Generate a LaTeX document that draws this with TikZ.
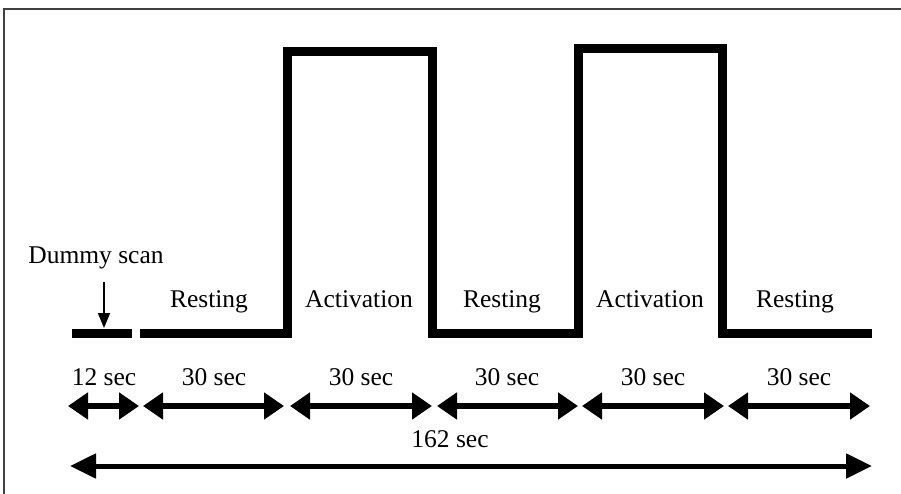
\documentclass[tikz,border=0pt]{standalone}
\usepackage{fontspec}
\setmainfont{Liberation Serif}
\usetikzlibrary{arrows.meta}
\begin{document}
\begin{tikzpicture}[x=1pt,y=-1pt,
  lbl/.style={anchor=base,inner sep=0pt,font=\fontsize{25.5}{30}\selectfont},
  signal/.style={line width=9pt,miter limit=10},
  span/.style={line width=6pt,{Triangle[length=20pt,width=26pt]}-{Triangle[length=20pt,width=26pt]}},
  bigspan/.style={line width=5pt,{Triangle[length=26pt,width=24pt]}-{Triangle[length=26pt,width=24pt]}},
  frame/.style={draw=black!75,line width=1.5pt}]
\useasboundingbox (0,0) rectangle (901,494);
\fill[white] (0,0) rectangle (901,494);
% frame (top and left edges)
\draw[frame] (4,494) -- (4,9) -- (901,9);
% signal
\coordinate (d0) at (72,333);
\coordinate (d1) at (132,333);
\draw[signal] (d0) -- (d1);
\coordinate (s0) at (140,333);
\coordinate (r1b) at (287,333);
\coordinate (r1t) at (287,52);
\coordinate (f1t) at (432,52);
\coordinate (f1b) at (432,333);
\coordinate (r2b) at (578,333);
\coordinate (r2t) at (578,49);
\coordinate (f2t) at (722,49);
\coordinate (f2b) at (722,333);
\coordinate (s1) at (872,333);
\draw[signal] (s0) -- (r1b) -- (r1t) -- (f1t) -- (f1b) -- (r2b) -- (r2t) -- (f2t) -- (f2b) -- (s1);
% dummy scan label and arrow
\node[lbl] (dummy) at (96,263) {Dummy scan};
\coordinate (da0) at (104,282);
\coordinate (da1) at (104,328);
\draw[line width=1.5pt,-{Triangle[length=15pt,width=12pt]}] (da0) -- (da1);
% phase labels
\node[lbl] (p1) at (209,307) {Resting};
\node[lbl] (p2) at (359,307) {Activation};
\node[lbl] (p3) at (502,307) {Resting};
\node[lbl] (p4) at (650,307) {Activation};
\node[lbl] (p5) at (795,307) {Resting};
% duration labels
\node[lbl] (t0) at (104,385) {12 sec};
\node[lbl] (t1) at (214,385) {30 sec};
\node[lbl] (t2) at (361,385) {30 sec};
\node[lbl] (t3) at (507,385) {30 sec};
\node[lbl] (t4) at (653,385) {30 sec};
\node[lbl] (t5) at (799,385) {30 sec};
% duration arrows
\coordinate (a0) at (68,406);
\coordinate (a1) at (139,406);
\coordinate (b0) at (143,406);
\coordinate (b1) at (284,406);
\coordinate (c0) at (290,406);
\coordinate (c1) at (432,406);
\coordinate (e0) at (437,406);
\coordinate (e1) at (578,406);
\coordinate (g0) at (582,406);
\coordinate (g1) at (724,406);
\coordinate (h0) at (728,406);
\coordinate (h1) at (870,406);
\draw[span] (a0) -- (a1);
\draw[span] (b0) -- (b1);
\draw[span] (c0) -- (c1);
\draw[span] (e0) -- (e1);
\draw[span] (g0) -- (g1);
\draw[span] (h0) -- (h1);
% total
\node[lbl] (tot) at (450,447) {162 sec};
\coordinate (z0) at (70,466);
\coordinate (z1) at (872,466);
\draw[bigspan] (z0) -- (z1);
\end{tikzpicture}
\end{document}
